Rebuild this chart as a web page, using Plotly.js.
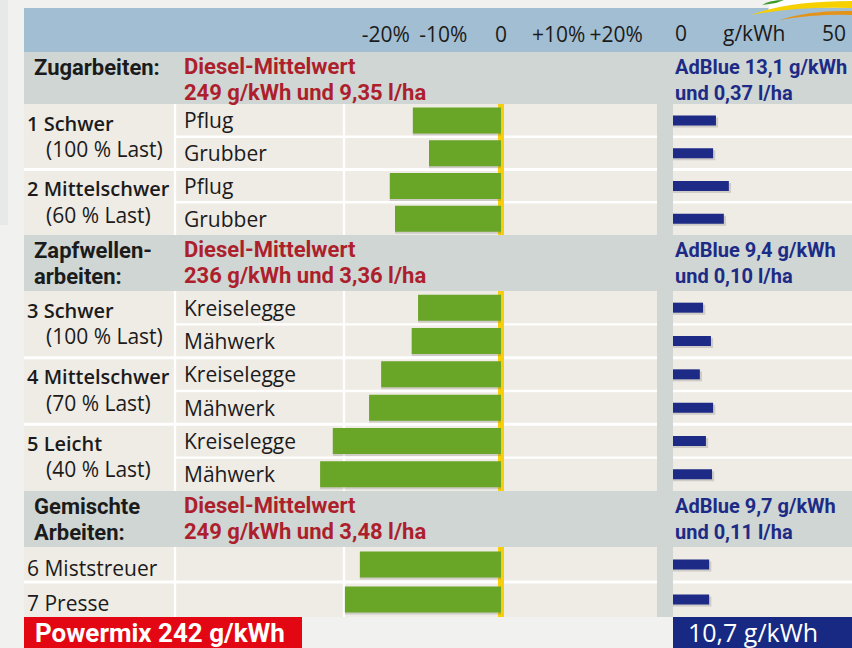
<!DOCTYPE html>
<html>
<head>
<meta charset="utf-8">
<script src="https://cdn.plot.ly/plotly-3.0.1.min.js"></script>
<style>html,body{margin:0;padding:0;background:#f1f2f0;}#chart{width:852px;height:648px;}</style>
</head>
<body>
<div id="chart"></div>
<script>
// ---------------- DATA ----------------
const sectionTitles = [['Zugarbeiten:'], ['Zapfwellen-', 'arbeiten:'], ['Gemischte', 'Arbeiten:']];
const dieselTitle = 'Diesel-Mittelwert';
const dieselMeans = ['249 g/kWh und 9,35 l/ha', '236 g/kWh und 3,36 l/ha', '249 g/kWh und 3,48 l/ha'];
const adBlueMeans = [['AdBlue 13,1 g/kWh', 'und 0,37 l/ha'], ['AdBlue 9,4 g/kWh', 'und 0,10 l/ha'], ['AdBlue 9,7 g/kWh', 'und 0,11 l/ha']];
const groupLabels = [['1 Schwer', '(100 % Last)'], ['2 Mittelschwer', '(60 % Last)'], ['3 Schwer', '(100 % Last)'], ['4 Mittelschwer', '(70 % Last)'], ['5 Leicht', '(40 % Last)'], ['6 Miststreuer'], ['7 Presse']];
const groupsPerSection = [[0, 1], [2, 3, 4], [5, 6]];
const rowsPerGroup = [2, 2, 2, 2, 2, 1, 1];
const implementLabels = ['Pflug', 'Grubber', 'Pflug', 'Grubber', 'Kreiselegge', 'Mähwerk', 'Kreiselegge', 'Mähwerk', 'Kreiselegge', 'Mähwerk', '', ''];
// deviation of diesel consumption from the mean, %
const dieselDeviation = [-15.3, -12.5, -19.3, -18.4, -14.4, -15.5, -20.8, -22.9, -29.2, -31.4, -24.5, -27.1];
// AdBlue consumption, g/kWh
const adBlueValues = [12.0, 11.2, 15.6, 14.2, 8.4, 10.6, 7.5, 11.2, 9.2, 10.9, 10.1, 10.1];
const pctTickVals = [-20, -10, 0, 10, 20];
const pctTickText = ['-20%', '-10%', '0', '+10%', '+20%'];
const adTickVals = [0, 50];
const adTickText = ['0', '50'];
const adUnit = 'g/kWh';
const powermixText = 'Powermix 242 g/kWh';
const adBlueTotalText = '10,7 g/kWh';

// ---------------- LAYOUT GEOMETRY (pixels) ----------------
const W = 852, H = 648;
const G = {panelL: 24, colA: 175, colB: 344, zeroX: 501, panelR: 657, adL: 673, adR: 852,
  headTop: 8, headBot: 52, pxPerPct: 5.76};
const secHeader = [{top: 52, h: 52, rowH: 32.75}, {top: 235, h: 56, rowH: 33.33}, {top: 491, h: 56, rowH: 35}];
const C = {text: '#1b1b1b', red: '#ad1f2d', navy: '#1d2b86', head: '#a2bed2', gray: '#cfd6d3',
  beige: '#efebe5', green: '#69a527', yellow: '#f6cf0a', redBox: '#e30713', navyBox: '#172983', bg: '#f1f2f0'};
const FR = 'Open Sans, sans-serif';
const FB = 'Roboto, sans-serif';
const PAD = 3;

const P = px => px / W;
const shapes = [], annotations = [];
function rect(x0, y0, x1, y1, color, layer) {
  shapes.push({type: 'rect', xref: 'paper', yref: 'y', x0: P(x0), x1: P(x1), y0: y0, y1: y1,
    fillcolor: color, line: {width: 0}, layer: layer || 'below'});
}
function text(t, x, y, opt) {
  opt = opt || {};
  const a = {text: t, xref: opt.xref || 'paper', yref: 'y', x: opt.xref ? x : P(x - PAD), y: y,
    xanchor: opt.xanchor || 'left', yanchor: 'middle', showarrow: false,
    font: {family: opt.family || FR, size: opt.size || 21, color: opt.color || C.text, weight: opt.weight || 400}};
  if (opt.xshift) a.xshift = opt.xshift;
  annotations.push(a);
}
function pathPx(pts) {
  return pts.map(p => (typeof p === 'string' ? p : (P(p[0]) + ',' + p[1]))).join(' ');
}

// background elements
rect(0, 0, 8, 225, '#e7e9e8');
rect(G.panelL, G.headTop, W, G.headBot, C.head);
rect(G.panelL, G.headBot, W, 617, C.gray);

// rows
const rowCenters = [];
let rowIdx = 0;
secHeader.forEach((s, si) => {
  const rowsTop = s.top + s.h;
  let nRows = 0;
  groupsPerSection[si].forEach(g => nRows += rowsPerGroup[g]);
  const rowsBot = rowsTop + nRows * s.rowH;
  rect(G.panelL, rowsTop, G.panelR, rowsBot, C.beige);
  rect(G.adL, rowsTop, G.adR, rowsBot, C.beige);
  // section header texts
  sectionTitles[si].forEach((t, k) => text(t, 35, s.top + 15 + k * 26, {family: FB, weight: 700, size: 22}));
  text(dieselTitle, 185, s.top + 14, {family: FB, weight: 700, size: 22, color: C.red});
  text(dieselMeans[si], 185, s.top + 40, {family: FB, weight: 700, size: 22, color: C.red});
  adBlueMeans[si].forEach((t, k) => text(t, 676, s.top + 15 + k * 26, {family: FB, weight: 700, size: 20, color: C.navy}));
  // groups
  let y = rowsTop;
  groupsPerSection[si].forEach((g, gi) => {
    const gTop = y;
    if (gi > 0) {
      rect(G.panelL, gTop - 1.5, G.panelR, gTop + 1.5, '#ffffff');
      rect(G.adL, gTop - 1.5, G.adR, gTop + 1.5, '#ffffff');
    }
    const lab = groupLabels[g];
    if (lab.length === 2) {
      text(lab[0], 28, gTop + 19, {weight: 600, size: 20});
      text(lab[1], 47, gTop + 45);
    } else {
      text(lab[0], 28, gTop + s.rowH * 0.6);
    }
    for (let r = 0; r < rowsPerGroup[g]; r++) {
      const rTop = y + r * s.rowH;
      if (r > 0) {
        rect(G.colA, rTop - 1.2, G.panelR, rTop + 1.2, '#ffffff');
        rect(G.adL, rTop - 1.2, G.adR, rTop + 1.2, '#ffffff');
      }
      rowCenters.push(rTop + s.rowH / 2);
      if (implementLabels[rowIdx]) text(implementLabels[rowIdx], 185, rTop + s.rowH / 2);
      rowIdx++;
    }
    y += rowsPerGroup[g] * s.rowH;
  });
  // column dividers
  rect(G.colA - 1.2, rowsTop, G.colA + 1.2, rowsBot, '#ffffff');
  rect(G.colB - 1.2, rowsTop, G.colB + 1.2, rowsBot, '#ffffff');
  // zero line
  rect(G.zeroX - 3, rowsTop, G.zeroX + 3, rowsBot, C.yellow);
});

// bottom boxes
rect(G.panelL, 617, 302, H, C.redBox);
rect(G.adL, 617, G.adR, H, C.navyBox);
text(powermixText, 36, 633, {family: FB, weight: 700, size: 26, color: '#ffffff'});
text(adBlueTotalText, 689, 632, {family: FR, size: 25, color: '#ffffff'});

// AdBlue axis labels (placed on the AdBlue axis scale)
text(adTickText[0], adTickVals[0], 33, {xref: 'x2', xanchor: 'left'});
text(adTickText[1], adTickVals[1], 33, {xref: 'x2', xanchor: 'right', xshift: -4});
text(adUnit, 0.45, 33, {xref: 'x2 domain', xanchor: 'center'});

// logo swoosh
shapes.push({type: 'path', xref: 'paper', yref: 'y', layer: 'above', fillcolor: '#ffffff', line: {width: 0},
  path: 'M' + pathPx([[772, 0], 'L', [852, 0], 'L', [852, 2], 'Q', [805, 2], [768, 10]]) + ' Z'});
shapes.push({type: 'path', xref: 'paper', yref: 'y', layer: 'above', fillcolor: '#3a9a2a', line: {width: 0},
  path: 'M' + pathPx([[762, 5], 'Q', [770, 0], [784, 0], 'L', [776, 3]]) + ' Z'});
shapes.push({type: 'path', xref: 'paper', yref: 'y', layer: 'above', fillcolor: '#f7d000', line: {width: 0},
  path: 'M' + pathPx([[751, 15], 'Q', [788, 1], [852, 1], 'L', [852, 8], 'Q', [798, 6], [751, 15]]) + ' Z'});
shapes.push({type: 'path', xref: 'paper', yref: 'y', layer: 'above', fillcolor: '#e39318', line: {width: 0},
  path: 'M' + pathPx([[779, 20], 'Q', [810, 10], [852, 11], 'L', [852, 15], 'Q', [815, 14], [779, 20]]) + ' Z'});

// ---------------- TRACES ----------------
const shadowY = rowCenters.map(v => v + 2);
const traces = [
  {type: 'bar', orientation: 'h', x: dieselDeviation, y: shadowY, width: 26, xaxis: 'x', yaxis: 'y',
    marker: {color: 'rgba(60,60,60,0.18)', line: {width: 0}}, hoverinfo: 'skip'},
  {type: 'bar', orientation: 'h', x: adBlueValues.map(v => v + 0.6), y: shadowY, width: 10, xaxis: 'x2', yaxis: 'y',
    marker: {color: 'rgba(60,60,60,0.18)', line: {width: 0}}, hoverinfo: 'skip'},
  {type: 'bar', orientation: 'h', x: dieselDeviation, y: rowCenters, width: 26, xaxis: 'x', yaxis: 'y',
    marker: {color: C.green, line: {width: 0}}, hoverinfo: 'x'},
  {type: 'bar', orientation: 'h', x: adBlueValues, y: rowCenters, width: 10, xaxis: 'x2', yaxis: 'y',
    marker: {color: C.navy, line: {width: 0}}, hoverinfo: 'x'}
];

const axisPos = 1 - 20 / H;
const layout = {
  width: W, height: H, margin: {l: 0, r: 0, t: 0, b: 0, pad: 0},
  paper_bgcolor: C.bg, plot_bgcolor: 'rgba(0,0,0,0)', showlegend: false, barmode: 'overlay',
  xaxis: {domain: [P(G.colA), P(G.panelR)], range: [(G.colA - G.zeroX) / G.pxPerPct, (G.panelR - G.zeroX) / G.pxPerPct],
    anchor: 'free', position: axisPos, side: 'bottom', tickvals: pctTickVals, ticktext: pctTickText, ticks: '',
    showgrid: false, zeroline: false, showline: false, tickfont: {family: FR, size: 21, color: C.text}, fixedrange: true},
  xaxis2: {domain: [P(G.adL), 1], range: [0, 50], anchor: 'free', position: axisPos, showticklabels: false,
    showgrid: false, zeroline: false, showline: false, fixedrange: true},
  yaxis: {domain: [0, 1], range: [H, 0], visible: false, fixedrange: true},
  shapes: shapes, annotations: annotations
};
Plotly.newPlot('chart', traces, layout, {displayModeBar: false, staticPlot: true});
</script>
</body>
</html>
